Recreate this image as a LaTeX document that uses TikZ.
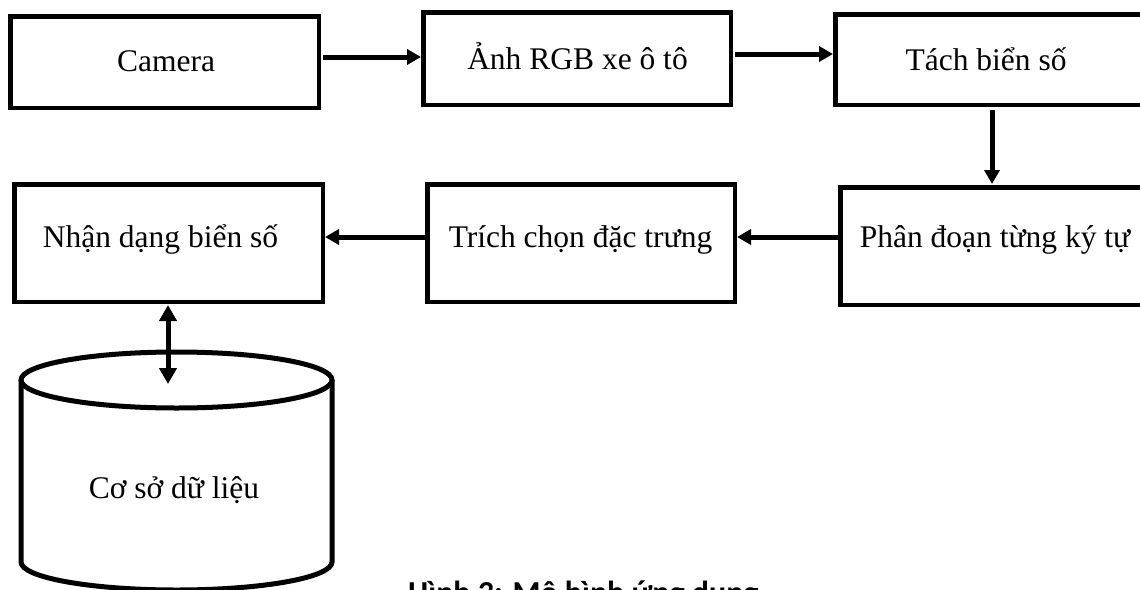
\documentclass[tikz,border=0pt]{standalone}
\usepackage{fontspec}
\setmainfont{Liberation Serif}
\newfontfamily\capfont{Carlito}
\usetikzlibrary{arrows.meta}
\tikzset{
  boxnode/.style={draw=black, line width=4.5pt, rectangle, inner sep=0pt},
  lbl/.style={inner sep=0pt, font=\fontsize{31.5}{38}\selectfont},
  arr/.style={line width=5pt, -{Triangle[length=14pt,width=15pt]}},
  darr/.style={line width=5pt, {Triangle[length=16pt,width=17pt]}-{Triangle[length=16pt,width=17pt]}},
  cyl/.style={line width=5pt, draw=black}
}
\begin{document}
\begin{tikzpicture}[x=1pt,y=-1pt]
\useasboundingbox[fill=white] (0,0) rectangle (1140,589);
% boxes
\node[boxnode, minimum width=308.5pt, minimum height=91.5pt] (cam) at (164.5,62) {};
\node[boxnode, minimum width=307.5pt, minimum height=92.5pt] (img) at (577,58.5) {};
\node[boxnode, minimum width=307.5pt, minimum height=90.5pt] (tach) at (989,59.5) {};
\node[boxnode, minimum width=308.5pt, minimum height=117.5pt] (nhan) at (168.5,243) {};
\node[boxnode, minimum width=307.5pt, minimum height=117.5pt] (trich) at (581,243) {};
\node[boxnode, minimum width=307.5pt, minimum height=117.5pt] (phan) at (994,246) {};
% labels
\node[lbl, anchor=base] (camt) at (166,71) {Camera};
\node[lbl, anchor=base] (imgt) at (577.5,69) {Ảnh RGB xe ô tô};
\node[lbl, anchor=base] (tacht) at (986,70) {Tách biển số};
\node[lbl, anchor=base] (nhant) at (160.5,247) {Nhận dạng biển số};
\node[lbl, anchor=base] (tricht) at (580.5,247) {Trích chọn đặc trưng};
\node[lbl, anchor=base] (phant) at (995,247) {Phân đoạn từng ký tự};
% database cylinder
\draw[cyl] (176.5,380) ellipse[x radius=155.5pt, y radius=28pt];
\draw[cyl] (21,380) -- (21,562) arc[start angle=180, end angle=360, x radius=155.5pt, y radius=28pt] -- (332,380);
\node[lbl, anchor=base] (dbt) at (174,498) {Cơ sở dữ liệu};
\coordinate (dbtop) at (168,384);
% connectors
\draw[arr] ([xshift=2pt,yshift=5pt]cam.east) -- ([yshift=1.5pt]img.west);
\draw[arr] ([xshift=2pt,yshift=4.5pt]img.east) -- ([yshift=5.5pt]tach.west);
\draw[arr] ([xshift=3pt,yshift=-3pt]tach.south) -- ([xshift=-2pt,yshift=1pt]phan.north);
\draw[arr] ([yshift=9pt]phan.west) -- ([yshift=6pt]trich.east);
\draw[arr] ([yshift=6pt]trich.west) -- ([yshift=6pt]nhan.east);
\draw[darr] ([xshift=-0.5pt,yshift=-1pt]nhan.south) -- (dbtop);
% caption
\node[anchor=base west, inner sep=0pt, font=\capfont\bfseries\fontsize{32}{38}\selectfont] (cap) at (408,603) {Hình 3: Mô hình ứng dụng};
\end{tikzpicture}
\end{document}
